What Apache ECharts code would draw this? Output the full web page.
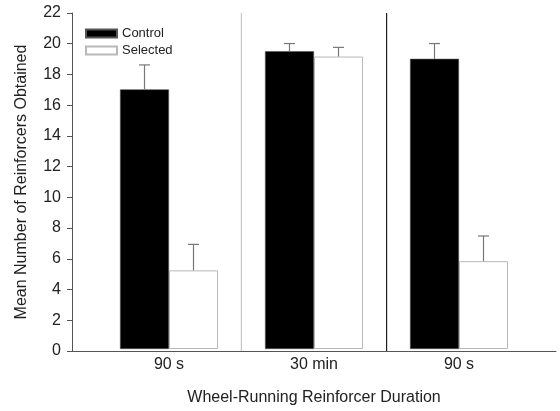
<!DOCTYPE html>
<html>
<head>
<meta charset="utf-8">
<script src="https://cdn.jsdelivr.net/npm/echarts@6/dist/echarts.min.js"></script>
<style>
  html, body { margin: 0; padding: 0; background: #fff; }
  #chart { width: 560px; height: 411px; }
</style>
</head>
<body>
<div id="chart"></div>
<script>
const categories = ['90 s', '30 min', '90 s']
const controlMeans = [17.0, 19.5, 19.0]
const controlUpper = [18.6, 20.0, 20.0]
const selectedMeans = [5.15, 19.15, 5.75]
const selectedUpper = [6.85, 19.75, 7.4]
const separators = [1.5, 2.5]
const separatorColors = ['#c8c8c8', '#222222']
const yTicks = { min: 0, max: 22, interval: 2 }

const BAR_W = 49
const font = 'Liberation Sans, Arial, sans-serif'

// error bars: [category, upper, side (-1 control / 1 selected), mean]
const errData = []
for (let i = 0; i < categories.length; i++) {
  errData.push([i, controlUpper[i], -1, controlMeans[i]])
  errData.push([i, selectedUpper[i], 1, selectedMeans[i]])
}

const myChart = echarts.init(document.getElementById('chart'))
myChart.setOption({
  animation: false,
  textStyle: { fontFamily: font },
  legend: {
    left: 85,
    top: 27,
    padding: 0,
    orient: 'vertical',
    itemWidth: 31,
    itemHeight: 8,
    itemGap: 4,
    icon: 'rect',
    textStyle: { fontSize: 13, color: '#222', fontFamily: font },
    data: ['Control', 'Selected']
  },
  grid: [
    { left: 72, right: 4, top: 13, bottom: 60 },
    { left: 96.5, width: 435, top: 13, bottom: 60 }
  ],
  xAxis: [
    {
      gridIndex: 0,
      type: 'value',
      min: 1 / 3,
      max: 11 / 3,
      axisLine: { lineStyle: { color: '#555', width: 1 } },
      axisTick: { show: false },
      axisLabel: { show: false },
      splitLine: { show: false }
    },
    {
      gridIndex: 1,
      type: 'category',
      data: categories,
      axisLine: { show: false },
      axisTick: { show: false },
      axisLabel: { color: '#222', fontSize: 16, margin: 8, fontFamily: font },
      name: 'Wheel-Running Reinforcer Duration',
      nameLocation: 'middle',
      nameGap: 41,
      nameTextStyle: { color: '#222', fontSize: 16, fontFamily: font }
    }
  ],
  yAxis: [
    {
      gridIndex: 0,
      type: 'value',
      min: yTicks.min,
      max: yTicks.max,
      interval: yTicks.interval,
      axisLine: { show: true, lineStyle: { color: '#555', width: 1 } },
      axisTick: { show: true, length: 5, lineStyle: { color: '#555' } },
      axisLabel: { color: '#222', fontSize: 16, margin: 11, fontFamily: font },
      splitLine: { show: false },
      name: 'Mean Number of Reinforcers Obtained',
      nameLocation: 'middle',
      nameGap: 42,
      nameTextStyle: { color: '#222', fontSize: 16, fontFamily: font }
    },
    {
      gridIndex: 1,
      type: 'value',
      min: yTicks.min,
      max: yTicks.max,
      show: false
    }
  ],
  series: [
    {
      type: 'custom',
      xAxisIndex: 0,
      yAxisIndex: 0,
      silent: true,
      data: separators.map((x, i) => [x, i]),
      renderItem: function(params, api) {
        const x = api.value(0)
        const p0 = api.coord([x, yTicks.min])
        const p1 = api.coord([x, yTicks.max])
        return {
          type: 'line',
          shape: { x1: p0[0], y1: p0[1], x2: p1[0], y2: p1[1] },
          style: { stroke: separatorColors[api.value(1)], lineWidth: 1.2 }
        }
      }
    },
    {
      name: 'Control',
      type: 'bar',
      xAxisIndex: 1,
      yAxisIndex: 1,
      barWidth: BAR_W,
      barGap: '0%',
      itemStyle: { color: '#000', borderColor: '#555', borderWidth: 0.6 },
      data: controlMeans
    },
    {
      name: 'Selected',
      type: 'bar',
      xAxisIndex: 1,
      yAxisIndex: 1,
      barWidth: BAR_W,
      barGap: '0%',
      itemStyle: { color: '#fff', borderColor: '#b8b8b8', borderWidth: 1 },
      data: selectedMeans
    },
    {
      type: 'custom',
      xAxisIndex: 1,
      yAxisIndex: 1,
      silent: true,
      z: 5,
      data: errData,
      renderItem: function(params, api) {
        const cat = api.value(0)
        const hi = api.coord([cat, api.value(1)])
        const lo = api.coord([cat, api.value(3)])
        const x = hi[0] + api.value(2) * BAR_W / 2
        const cap = 5.5
        return {
          type: 'group',
          children: [
            {
              type: 'line',
              shape: { x1: x, y1: lo[1], x2: x, y2: hi[1] },
              style: { stroke: '#777', lineWidth: 1.2 }
            },
            {
              type: 'line',
              shape: { x1: x - cap, y1: hi[1], x2: x + cap, y2: hi[1] },
              style: { stroke: '#777', lineWidth: 1.2 }
            }
          ]
        }
      }
    }
  ]
})
</script>
</body>
</html>
